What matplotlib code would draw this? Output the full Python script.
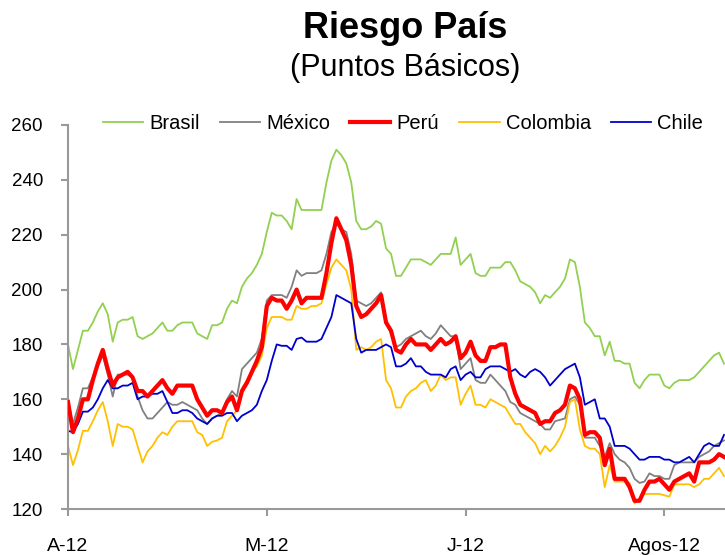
import matplotlib
matplotlib.use("Agg")
import matplotlib.pyplot as plt

plt.rcParams['font.family'] = ['Liberation Sans', 'DejaVu Sans']

# ejes: indice de dia habil, etiquetas cada 40 dias
tick_pos = [0, 40, 80, 120]
tick_labels = ['A-12', 'M-12', 'J-12', 'Agos-12']
y_ticks = [120, 140, 160, 180, 200, 220, 240, 260]

brasil = [180, 171, 178, 185, 185, 188, 192, 195, 191, 181, 188, 189, 189, 190, 183, 182, 183, 184, 186, 188,
          185, 185, 187, 188, 188, 188, 184, 183, 182, 187, 187, 188, 193, 196, 195, 201, 204, 206, 209, 213,
          221, 228, 227, 227, 225, 222, 233, 229, 229, 229, 229, 229, 239, 247, 251, 249, 246, 239, 225, 222,
          222, 223, 225, 224, 215, 213, 205, 205, 208, 211, 211, 211, 210, 209, 211, 213, 213, 213, 219, 209,
          211, 213, 206, 205, 205, 208, 208, 208, 210, 210, 207, 203, 202, 201, 199, 195, 198, 197, 199, 201,
          204, 211, 210, 201, 188, 186, 183, 183, 176, 181, 174, 174, 173, 173, 166, 164, 167, 169, 169, 169,
          165, 164, 166, 167, 167, 167, 168, 170, 172, 174, 176, 177, 173]

mexico = [160, 151, 157, 164, 164, 168, 172, 176, 169, 161, 169, 169, 169, 168, 161, 156, 153, 153, 155, 157,
          159, 158, 158, 159, 158, 157, 156, 153, 151, 153, 154, 155, 160, 163, 161, 171, 173, 175, 177, 182,
          196, 198, 198, 198, 197, 201, 207, 205, 206, 206, 206, 207, 213, 221, 224, 222, 221, 213, 196, 195,
          194, 195, 197, 199, 188, 184, 179, 180, 182, 183, 184, 185, 183, 182, 184, 187, 185, 183, 183, 171,
          173, 175, 167, 166, 166, 169, 167, 165, 163, 159, 158, 155, 154, 153, 152, 151, 149, 149, 152, 152.5,
          153, 160, 161, 158, 146, 146, 146, 143, 139, 144, 140, 138, 137, 135, 131, 129.5, 130, 133, 132, 132,
          131, 131, 136, 137, 137, 137, 137, 139, 140, 141, 143, 144, 145]

peru = [159, 148, 153, 160, 160, 167, 173, 178, 171, 165, 168, 169, 170, 168, 163, 163, 161, 163, 165, 167,
        164, 162, 165, 165, 165, 165, 160, 157, 154, 156, 156, 155, 159, 161, 156, 163, 166, 170, 174, 179,
        194, 197, 196, 196, 193, 196, 200, 195, 197, 197, 197, 197, 206, 217, 226, 222, 218, 209, 194, 190,
        191, 193, 195, 198, 188, 185, 178, 177, 180, 182, 180, 180, 180, 178, 180, 182, 180, 181, 183, 175,
        177, 181, 176, 174, 174, 179, 179, 180, 180, 168, 162, 158, 157, 156, 155, 151, 152, 152, 155, 156,
        158, 165, 164, 160, 147, 148, 148, 146, 136, 142, 131, 131, 131, 128, 123, 123, 127, 130, 130, 131,
        129, 127, 130, 131, 132, 133, 130, 137, 137, 137, 138, 140, 139]

colombia = [143, 136, 141.5, 148.5, 148.5, 152, 156, 159, 152, 143, 151, 150, 150, 149, 143, 137, 141, 143, 146, 148,
            147, 150, 152, 152, 152, 152, 148, 147, 143, 144.5, 145, 146, 152, 154, 156, 164, 167, 170, 172, 176,
            186, 190, 190, 190, 189, 189, 194, 193, 193, 194, 194, 195, 202, 208, 211, 209, 207, 200, 178, 179,
            178, 179, 181, 182, 167, 164, 157, 157, 161, 163, 164, 166, 167, 163, 165, 169, 167, 168, 168, 158,
            162, 165, 158, 158, 157, 160, 159, 158, 157, 154, 151, 151, 148, 146, 144, 140, 143, 141, 143, 146,
            150, 159, 160, 149, 143, 142, 142, 140, 128, 136, 130, 130, 130, 129.5, 122, 124, 125.5, 125.5, 125.5, 125.5,
            125, 124.5, 129, 129, 129, 129, 128, 129, 131, 131, 133, 135, 132]

chile = [148.5, 148, 151, 155.5, 155.5, 157, 160, 164, 167, 164, 164, 165, 165, 166, 160, 161, 161, 162, 162, 163,
         159, 155, 155, 156, 156, 155, 153, 152, 151, 153, 154, 154, 155, 155, 152, 154, 155, 156, 158, 163,
         167, 174, 180, 179.5, 179.5, 178, 182, 182.5, 181, 181, 181, 182, 186, 190, 198, 197, 196, 195, 182, 177,
         178, 178, 178, 179, 180, 179, 172, 172, 173, 175, 172, 172, 170, 169, 169, 169, 168, 171, 172, 167,
         169, 170, 168, 168, 171, 172, 172, 172, 171, 170, 171, 169, 168, 170, 171, 170, 168, 165, 167, 169,
         171, 172, 173, 168, 158, 159, 160, 153, 153, 150, 143, 143, 143, 142, 140, 138, 138, 139, 139, 139,
         138, 138, 137, 137, 138, 139, 137, 140, 143, 144, 143, 143, 147]

series = [('Brasil', brasil, '#92D050', 1.3, 2),
          ('México', mexico, '#808080', 1.3, 2),
          ('Perú', peru, '#FF0000', 3.0, 5),
          ('Colombia', colombia, '#FFC000', 1.3, 2),
          ('Chile', chile, '#0000CC', 1.3, 2)]

fig = plt.figure(figsize=(7.25, 5.55), dpi=100)
ax = fig.add_axes([68 / 725, 1 - 509 / 555, 1 - 68 / 725, (509 - 125) / 555])

for name, vals, col, lw, z in series:
    ax.plot(range(len(vals)), vals, color=col, lw=lw, label=name, zorder=z)

ax.set_xlim(0, 132.2)
ax.set_ylim(120, 260)
ax.set_yticks(y_ticks)
ax.set_xticks(tick_pos)
ax.set_xticklabels(tick_labels)

for s in ['top', 'right']:
    ax.spines[s].set_visible(False)
for s in ['left', 'bottom']:
    ax.spines[s].set_color('#999999')
    ax.spines[s].set_linewidth(1.5)
ax.tick_params(axis='y', colors='#999999', labelcolor='black', length=5, width=1.5, labelsize=13.5, pad=13)
ax.tick_params(axis='x', colors='#999999', labelcolor='black', length=5, width=1.5, labelsize=14, pad=16)

fig.text(405 / 725, 1 - 28 / 555, 'Riesgo País', ha='center', va='center', fontsize=26, fontweight='bold')
fig.text(405 / 725, 1 - 68 / 555, '(Puntos Básicos)', ha='center', va='center', fontsize=22)

fig.legend(loc='center', bbox_to_anchor=(403 / 725, 1 - 124 / 555), ncol=5, frameon=False,
           fontsize=14.5, handlelength=2.0, handletextpad=0.3, columnspacing=1.0)

fig.savefig('out.png', dpi=100)
